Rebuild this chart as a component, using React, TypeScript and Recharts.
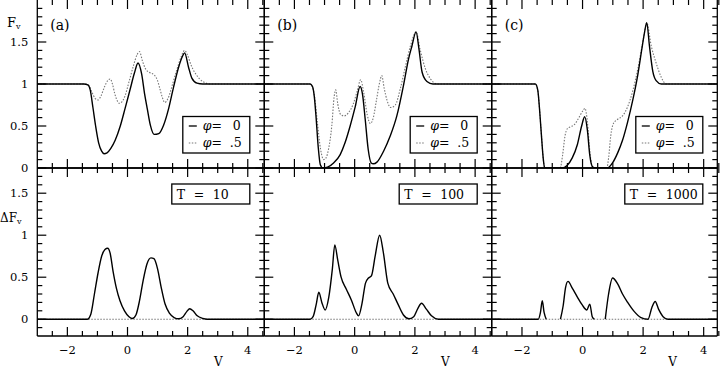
import { LineChart, Line, XAxis, YAxis } from 'recharts';

const FONT = '"DejaVu Serif", serif';

// each pair is [v, F]
type Pt = [number, number | null];

const aPhi0: Pt[] = [[-3, 1], [-1.45, 1], [-1.32, 0.99], [-1.24, 0.93], [-1.15, 0.72], [-1.06, 0.5], [-0.96, 0.3], [-0.86, 0.2], [-0.78, 0.17], [-0.68, 0.18], [-0.56, 0.23], [-0.41, 0.33], [-0.24, 0.5], [-0.08, 0.71], [0.09, 0.94], [0.23, 1.13], [0.35, 1.25], [0.47, 1.12], [0.57, 0.88], [0.66, 0.7], [0.76, 0.51], [0.89, 0.4], [1.04, 0.41], [1.2, 0.51], [1.37, 0.71], [1.53, 0.96], [1.7, 1.2], [1.83, 1.33], [1.9, 1.37], [2.03, 1.2], [2.14, 1.07], [2.31, 1.01], [2.5, 1], [4.55, 1]];
const aPhi5: Pt[] = [[-3, 1], [-1.4, 1], [-1.28, 0.98], [-1.18, 0.9], [-1.08, 0.83], [-0.98, 0.81], [-0.88, 0.86], [-0.76, 0.97], [-0.66, 1.04], [-0.58, 1.06], [-0.5, 1.0], [-0.42, 0.88], [-0.34, 0.8], [-0.27, 0.77], [-0.18, 0.79], [-0.08, 0.86], [0.06, 1.04], [0.2, 1.22], [0.32, 1.35], [0.4, 1.385], [0.5, 1.27], [0.6, 1.18], [0.72, 1.14], [0.88, 1.11], [1.0, 1.04], [1.08, 0.94], [1.15, 0.85], [1.24, 0.78], [1.35, 0.83], [1.5, 1.0], [1.64, 1.17], [1.78, 1.32], [1.9, 1.4], [2.0, 1.34], [2.12, 1.22], [2.25, 1.13], [2.4, 1.06], [2.55, 1.02], [2.75, 1], [4.55, 1]];
const aDelta: Pt[] = [[-3, 0], [-1.34, 0], [-1.22, 0.06], [-1.1, 0.3], [-0.98, 0.55], [-0.86, 0.75], [-0.75, 0.83], [-0.66, 0.845], [-0.58, 0.79], [-0.48, 0.57], [-0.37, 0.37], [-0.25, 0.22], [-0.1, 0.1], [0.05, 0.03], [0.16, 0.008], [0.28, 0.05], [0.4, 0.22], [0.52, 0.46], [0.65, 0.66], [0.78, 0.73], [0.88, 0.72], [1.0, 0.6], [1.12, 0.38], [1.25, 0.18], [1.4, 0.07], [1.55, 0.02], [1.7, 0.005], [1.85, 0.03], [1.97, 0.09], [2.07, 0.125], [2.18, 0.1], [2.32, 0.04], [2.5, 0.01], [2.65, 0], [4.55, 0]];

const bPhi0: Pt[] = [[-3, 1], [-1.48, 1], [-1.4, 0.97], [-1.34, 0.85], [-1.28, 0.6], [-1.21, 0.25], [-1.14, 0.04], [-1.05, 0], [-0.9, 0.01], [-0.7, 0.06], [-0.48, 0.16], [-0.32, 0.3], [-0.15, 0.5], [0.02, 0.73], [0.18, 0.97], [0.26, 0.88], [0.35, 0.58], [0.45, 0.22], [0.55, 0.06], [0.62, 0.05], [0.74, 0.07], [0.96, 0.2], [1.18, 0.38], [1.4, 0.62], [1.63, 1.0], [1.79, 1.3], [1.9, 1.45], [2.04, 1.62], [2.13, 1.43], [2.24, 1.14], [2.4, 1.03], [2.6, 1], [4.55, 1]];
const bPhi5: Pt[] = [[-3, 1], [-1.48, 1], [-1.4, 0.96], [-1.33, 0.85], [-1.24, 0.55], [-1.13, 0.22], [-1.03, 0.1], [-0.95, 0.12], [-0.87, 0.22], [-0.76, 0.5], [-0.68, 0.85], [-0.63, 0.93], [-0.56, 0.76], [-0.47, 0.64], [-0.35, 0.62], [-0.2, 0.66], [-0.05, 0.76], [0.08, 0.91], [0.2, 1.05], [0.3, 0.9], [0.42, 0.63], [0.52, 0.53], [0.62, 0.6], [0.72, 0.8], [0.83, 1.02], [0.9, 1.1], [0.98, 0.95], [1.08, 0.8], [1.2, 0.72], [1.35, 0.75], [1.52, 0.95], [1.68, 1.2], [1.85, 1.45], [2.04, 1.62], [2.18, 1.4], [2.35, 1.18], [2.52, 1.06], [2.74, 1], [4.55, 1]];
const bDelta: Pt[] = [[-3, 0], [-1.48, 0], [-1.38, 0.03], [-1.28, 0.17], [-1.19, 0.32], [-1.09, 0.2], [-0.98, 0.11], [-0.86, 0.26], [-0.74, 0.6], [-0.66, 0.885], [-0.56, 0.7], [-0.45, 0.5], [-0.28, 0.36], [-0.1, 0.22], [0.05, 0.08], [0.13, 0.04], [0.24, 0.18], [0.36, 0.43], [0.46, 0.49], [0.56, 0.52], [0.68, 0.75], [0.83, 1.0], [0.95, 0.8], [1.1, 0.43], [1.28, 0.3], [1.45, 0.17], [1.62, 0.05], [1.8, 0.005], [1.96, 0.03], [2.1, 0.13], [2.22, 0.19], [2.38, 0.12], [2.55, 0.04], [2.78, 0], [4.55, 0]];

const cPhi0: Pt[] = [[-3, 1], [-1.56, 1], [-1.48, 0.93], [-1.42, 0.7], [-1.36, 0.4], [-1.3, 0.12], [-1.25, 0], [-0.68, 0], [-0.51, 0.03], [-0.34, 0.12], [-0.17, 0.28], [-0.03, 0.5], [0.07, 0.61], [0.16, 0.45], [0.24, 0.15], [0.32, 0.02], [0.41, 0], [0.82, 0], [0.99, 0.06], [1.16, 0.18], [1.32, 0.33], [1.49, 0.55], [1.66, 0.81], [1.82, 1.1], [1.96, 1.42], [2.04, 1.6], [2.12, 1.73], [2.21, 1.45], [2.32, 1.15], [2.43, 1.04], [2.6, 1], [4.45, 1]];
const cPhi5: Pt[] = [[-3, 1], [-1.56, 1], [-1.48, 0.93], [-1.42, 0.7], [-1.36, 0.4], [-1.3, 0.12], [-1.25, 0], [-0.74, 0], [-0.66, 0.15], [-0.58, 0.38], [-0.5, 0.47], [-0.4, 0.49], [-0.26, 0.52], [-0.12, 0.6], [0.01, 0.68], [0.08, 0.71], [0.16, 0.55], [0.24, 0.2], [0.32, 0.02], [0.41, 0], [0.8, 0], [0.86, 0.12], [0.93, 0.38], [1.02, 0.53], [1.16, 0.58], [1.32, 0.62], [1.49, 0.73], [1.66, 0.92], [1.82, 1.17], [1.96, 1.44], [2.04, 1.6], [2.12, 1.73], [2.27, 1.45], [2.43, 1.25], [2.6, 1.08], [2.77, 1], [4.45, 1]];
const cDelta: Pt[] = [[-3, 0], [-1.46, 0], [-1.39, 0.08], [-1.33, 0.22], [-1.27, 0.08], [-1.2, 0], [-1.0, null], [-0.73, 0], [-0.64, 0.16], [-0.56, 0.38], [-0.48, 0.45], [-0.34, 0.37], [-0.18, 0.27], [-0.01, 0.17], [0.14, 0.11], [0.24, 0.18], [0.32, 0.03], [0.39, 0], [0.6, null], [0.75, 0], [0.86, 0.3], [0.99, 0.49], [1.16, 0.42], [1.32, 0.3], [1.49, 0.2], [1.71, 0.09], [1.93, 0.02], [2.16, 0], [2.29, 0.14], [2.4, 0.21], [2.51, 0.12], [2.66, 0.03], [2.82, 0], [4.45, 0]];

const zeroLine: Pt[] = [[-3, 0], [4.6, 0]];

const xTicks = [-2.5, -2, -1.5, -1, -0.5, 0, 0.5, 1, 1.5, 2, 2.5, 3, 3.5, 4, 4.5];
const yTicksTop = [0, 0.1, 0.2, 0.3, 0.4, 0.5, 0.6, 0.7, 0.8, 0.9, 1, 1.1, 1.2, 1.3, 1.4, 1.5, 1.6, 1.7, 1.8, 1.9];
const yTicksBot = [-0.1, 0, 0.1, 0.2, 0.3, 0.4, 0.5, 0.6, 0.7, 0.8, 0.9, 1, 1.1, 1.2, 1.3, 1.4, 1.5, 1.6, 1.7];
const temps = ['10', '100', '1000'];
const panelTags = ['(a)', '(b)', '(c)'];

const rows = (s: Pt[]) => s.map(([v, f]) => ({ v, f }));

const isMajorX = (v: number) => Math.abs(v / 2 - Math.round(v / 2)) < 1e-6;
const isMajorY = (v: number) => Math.abs(v * 2 - Math.round(v * 2)) < 1e-6;
const fmt = (v: number) => (v < 0 ? `\u2212${-v}` : `${v}`);
const MAJ = 9;
const MIN = 5;
const PAD = 20; // extra room around every chart svg so that 1px axes sit on the frame

const xTick = (side: 'top' | 'bottom', labels: boolean) => (p: any) => {
  const v = p.payload.value;
  const major = isMajorX(v);
  const dir = side === 'bottom' ? -1 : 1;
  return (
    <g>
      <line x1={p.x} y1={p.y} x2={p.x} y2={p.y + dir * (major ? MAJ : MIN)} stroke="#000" strokeWidth={1.2} />
      {labels && major && (
        <text x={p.x} y={p.y + 14} textAnchor="middle" dominantBaseline="central" fontSize={11.5} fontFamily={FONT} fill="#000">
          {fmt(v)}
        </text>
      )}
    </g>
  );
};

const yTick = (side: 'left' | 'right', labels: boolean) => (p: any) => {
  const v = p.payload.value;
  const major = isMajorY(v);
  const dir = side === 'left' ? 1 : -1;
  return (
    <g>
      <line x1={p.x} y1={p.y} x2={p.x + dir * (major ? MAJ : MIN)} y2={p.y} stroke="#000" strokeWidth={1.2} />
      {labels && major && v >= 0 && v < 2 && (
        <text x={p.x - 9} y={p.y} textAnchor="end" dominantBaseline="central" fontSize={11.5} fontFamily={FONT} fill="#000">
          {fmt(v)}
        </text>
      )}
    </g>
  );
};

const axisLine = { stroke: '#000', strokeWidth: 1.3 };

type Series = { data: Pt[]; dotted?: boolean };

function Panel({ left, top, width, height, xMax, yDomain, yTicks, yLabels, xLabels, topLine, series }: {
  left: number; top: number; width: number; height: number; xMax: number;
  yDomain: [number, number]; yTicks: number[]; yLabels: boolean; xLabels: boolean; topLine: boolean; series: Series[];
}) {
  const W = 720 + 2 * PAD;
  const H = 367 + 2 * PAD;
  const margin = {
    top: top + PAD - 1,
    left: left + PAD - 1,
    right: W - (left + PAD) - width - 1,
    bottom: H - (top + PAD) - height - 1,
  };
  return (
    <div style={{ position: 'absolute', left: -PAD, top: -PAD }}>
      <LineChart width={W} height={H} margin={margin}>
        <XAxis xAxisId="b" type="number" dataKey="v" domain={[-3, xMax]} ticks={xTicks} interval={0} orientation="bottom" height={1}
          tickSize={0} tickMargin={0} tickLine={false} axisLine={axisLine} tick={xTick('bottom', xLabels)} allowDataOverflow />
        <XAxis xAxisId="t" type="number" dataKey="v" domain={[-3, xMax]} ticks={xTicks} interval={0} orientation="top" height={1}
          tickSize={0} tickMargin={0} tickLine={false} axisLine={topLine ? axisLine : false} tick={xTick('top', false)} allowDataOverflow />
        <YAxis yAxisId="l" type="number" domain={yDomain} ticks={yTicks} interval={0} orientation="left" width={1}
          tickSize={0} tickMargin={0} tickLine={false} axisLine={axisLine} tick={yTick('left', yLabels)} allowDataOverflow />
        <YAxis yAxisId="r" type="number" domain={yDomain} ticks={yTicks} interval={0} orientation="right" width={1}
          tickSize={0} tickMargin={0} tickLine={false} axisLine={axisLine} tick={yTick('right', false)} allowDataOverflow />
        {series.map((s, i) => (
          <Line key={i} xAxisId="b" yAxisId="l" data={rows(s.data)} dataKey="f" type="monotone"
            stroke={s.dotted ? '#777' : '#000'} strokeWidth={s.dotted ? 1.1 : 1.4}
            strokeDasharray={s.dotted ? '1.5 1.5' : undefined}
            dot={false} activeDot={false} isAnimationActive={false} />
        ))}
      </LineChart>
    </div>
  );
}

const cols = [
  { left: 37.3, width: 227, xMax: 4.55, top: [aPhi0, aPhi5], delta: aDelta },
  { left: 264.3, width: 227.4, xMax: 4.55, top: [bPhi0, bPhi5], delta: bDelta },
  { left: 491.7, width: 225.6, xMax: 4.45, top: [cPhi0, cPhi5], delta: cDelta },
];

export default function App() {
  return (
    <div style={{ position: 'absolute', left: 0, top: 0, width: 720, height: 367, background: '#fff', overflow: 'hidden' }}>
      {cols.map((c, i) => (
        <div key={i}>
          <Panel left={c.left} top={0} width={c.width} height={168} xMax={c.xMax} yDomain={[0, 2]} yTicks={yTicksTop}
            yLabels={i === 0} xLabels={false} topLine={false}
            series={[{ data: c.top[1], dotted: true }, { data: c.top[0] }]} />
          <Panel left={c.left} top={168} width={c.width} height={168} xMax={c.xMax} yDomain={[-0.2, 1.8]} yTicks={yTicksBot}
            yLabels={i === 0} xLabels={true} topLine={true}
            series={[{ data: zeroLine, dotted: true }, { data: c.delta }]} />
        </div>
      ))}
      <svg width={720} height={367} style={{ position: 'absolute', left: 0, top: 0, pointerEvents: 'none' }} fontFamily={FONT}>
        <text x={7} y={27} fontSize={13}>F<tspan fontSize={8} dy={2}>v</tspan></text>
        <text x={0} y={222} fontSize={12}>ΔF<tspan fontSize={8} dy={2}>v</tspan></text>
        {cols.map((c, i) => {
          const right = c.left + c.width;
          const lx = right - 14.5 - 67;
          const tx = right - 14.5 - 78;
          return (
            <g key={i}>
              <text x={c.left + 13} y={30} fontSize={14}>{panelTags[i]}</text>
              <text x={c.left + 181} y={365.5} fontSize={12} textAnchor="middle">V</text>
              <rect x={lx} y={116.5} width={67} height={36.5} fill="#fff" stroke="#000" strokeWidth={1.3} />
              <line x1={lx + 6} y1={126} x2={lx + 14} y2={126} stroke="#000" strokeWidth={1.3} />
              <line x1={lx + 6} y1={143} x2={lx + 14} y2={143} stroke="#777" strokeWidth={1.1} strokeDasharray="1.5 1.5" />
              <text x={lx + 20} y={129.5} fontSize={12.5}><tspan fontStyle="italic">φ</tspan>=</text>
              <text x={lx + 50} y={129.5} fontSize={12.5}>0</text>
              <text x={lx + 20} y={146.5} fontSize={12.5}><tspan fontStyle="italic">φ</tspan>=</text>
              <text x={lx + 47} y={146.5} fontSize={12.5}>.5</text>
              <rect x={tx} y={184} width={78} height={20} fill="#fff" stroke="#000" strokeWidth={1.3} />
              <text x={tx + 5} y={198.5} fontSize={12.5}>T</text>
              <text x={tx + 22} y={198.5} fontSize={12.5}>=</text>
              <text x={tx + 41} y={198.5} fontSize={12.5}>{temps[i]}</text>
            </g>
          );
        })}
      </svg>
    </div>
  );
}
